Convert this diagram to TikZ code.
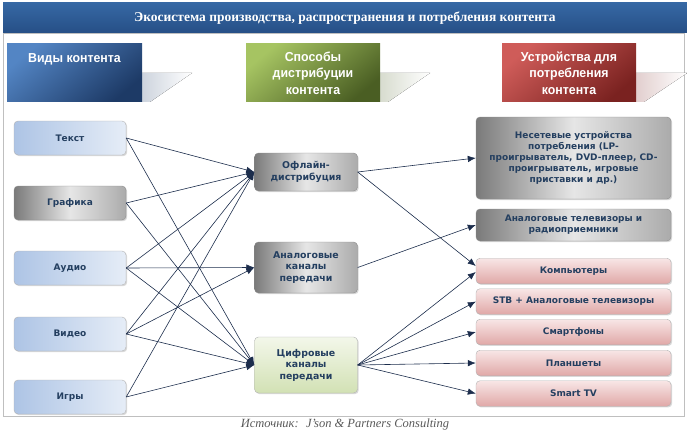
\documentclass[tikz,border=0pt]{standalone}
\usepackage{fontspec}
\setmainfont{Liberation Serif}
\newfontfamily\boxfont{DejaVu Sans}
\newfontfamily\hdrfont[FakeStretch=0.95]{Liberation Sans}
\usetikzlibrary{arrows.meta,shadows}

\definecolor{titleL}{HTML}{3668A4}
\definecolor{titleD}{HTML}{264F86}
\definecolor{hblueL}{HTML}{5385C4}
\definecolor{hblueD}{HTML}{1D3A66}
\definecolor{hgreenL}{HTML}{A6C462}
\definecolor{hgreenD}{HTML}{4A5E23}
\definecolor{hredL}{HTML}{CF5C59}
\definecolor{hredD}{HTML}{7A2220}
\definecolor{kindL}{HTML}{E6EDF7}
\definecolor{kindD}{HTML}{ADC4E5}
\definecolor{grayL}{HTML}{E6E6E6}
\definecolor{grayM}{HTML}{ABABAB}
\definecolor{grayD}{HTML}{7A7A7A}
\definecolor{digL}{HTML}{F3F7EA}
\definecolor{digD}{HTML}{D2E1B4}
\definecolor{pinkL}{HTML}{F8E6E6}
\definecolor{pinkD}{HTML}{E0A8A7}
\definecolor{boxtext}{HTML}{243F60}
\definecolor{linkcol}{HTML}{1C2D4C}

\begin{document}
\begin{tikzpicture}[x=1pt, y=-1pt,
  hdr/.style={minimum width=134pt, minimum height=58pt, inner sep=2pt, align=center,
              text=white, font=\hdrfont\bfseries\fontsize{13}{16.5}\selectfont},
  box/.style={draw=black!30, rounded corners=4pt, align=center, inner sep=2pt,
              text=boxtext, font=\boxfont\bfseries\fontsize{9}{11}\selectfont,
              drop shadow={shadow xshift=1.2pt, shadow yshift=-1.2pt, opacity=0.3}},
  kind/.style={box, minimum width=112pt, minimum height=34pt,
               left color=kindD, right color=kindL},
  greybox/.style={draw=black!45, left color=grayD, right color=grayM, middle color=grayL},
  way/.style={box, minimum width=103pt, font=\boxfont\bfseries\fontsize{9.4}{11.5}\selectfont},
  dev/.style={box, minimum width=195pt, minimum height=25.5pt},
  pinkbox/.style={top color=pinkL, bottom color=pinkD},
  every edge/.style={draw=linkcol, line width=0.6pt,
                     -{Latex[length=8pt, width=6.5pt]}}
]
  \useasboundingbox (0,0) rectangle (687,433);
  \draw[black!25] (3,33) rectangle (684,416);

  \node[top color=titleL, bottom color=titleD, minimum width=684pt,
        minimum height=30pt, text=white, font=\bfseries\fontsize{13.5}{15}\selectfont]
        (title) at (345,18) {Экосистема производства, распространения и потребления контента};

  \fill[left color=hblueD!22, right color=white] (142,73) -- (192,73) -- (150,102) -- (142,102) -- cycle;
  \fill[left color=hgreenD!22, right color=white] (380,73) -- (430,73) -- (388,102) -- (380,102) -- cycle;
  \fill[left color=hredD!22, right color=white] (636,73) -- (687,73) -- (644,102) -- (636,102) -- cycle;

  \node[hdr, minimum width=135pt, text depth=30pt, top color=hblueL,
        bottom color=hblueD, shading angle=40] (hkind) at (74.5,73) {Виды контента};
  \node[hdr, top color=hgreenL, bottom color=hgreenD, shading angle=40]
        (hway) at (313,73) {Способы\\дистрибуции\\контента};
  \node[hdr, top color=hredL, bottom color=hredD, shading angle=40]
        (hdev) at (569,73) {Устройства для\\потребления\\контента};

  \node[kind] (txt) at (70,138) {Текст};
  \node[kind, greybox] (grf) at (70,203) {Графика};
  \node[kind] (aud) at (70,268) {Аудио};
  \node[kind] (vid) at (70,334) {Видео};
  \node[kind] (gam) at (70,397) {Игры};

  \node[way, greybox, minimum height=38pt] (off) at (306,172) {Офлайн-\\дистрибуция};
  \node[way, greybox, minimum height=51pt] (ana) at (306,267.5) {Аналоговые\\каналы\\передачи};
  \node[way, minimum height=56pt, top color=digL, bottom color=digD] (dig) at (306,365) {Цифровые\\каналы\\передачи};

  \node[dev, greybox, minimum height=82pt] (nonnet) at (573.5,158)
    {Несетевые устройства\\потребления (LP-\\проигрыватель, DVD-плеер, CD-\\проигрыватель, игровые\\приставки и др.)};
  \node[dev, greybox, minimum height=32pt] (anatv) at (573.5,225) {Аналоговые телевизоры и\\радиоприемники};
  \node[dev, pinkbox] (pc) at (573.5,271) {Компьютеры};
  \node[dev, pinkbox] (stb) at (573.5,301.5) {STB + Аналоговые телевизоры};
  \node[dev, pinkbox] (phone) at (573.5,332) {Смартфоны};
  \node[dev, pinkbox] (tab) at (573.5,363) {Планшеты};
  \node[dev, pinkbox] (stv) at (573.5,393.5) {Smart TV};

  \draw (txt.east) edge (off.west) edge (dig.west);
  \draw (grf.east) edge (off.west) edge (dig.west);
  \draw (aud.east) edge (off.west) edge (ana.west) edge (dig.west);
  \draw (vid.east) edge (off.west) edge (ana.west) edge (dig.west);
  \draw (gam.east) edge (off.west) edge (dig.west);

  \draw (off.east) edge (nonnet.west) edge ([yshift=5pt]pc.west);
  \draw (ana.east) edge (anatv.west);
  \draw (dig.east) edge ([yshift=-1pt]pc.west) edge (stb.west) edge (phone.west)
                   edge (tab.west) edge (stv.west);

  \node[text=black!65, font=\itshape\fontsize{12.5}{14}\selectfont] (source) at (345,424)
    {Источник:~ J'son \& Partners Consulting};
\end{tikzpicture}
\end{document}
